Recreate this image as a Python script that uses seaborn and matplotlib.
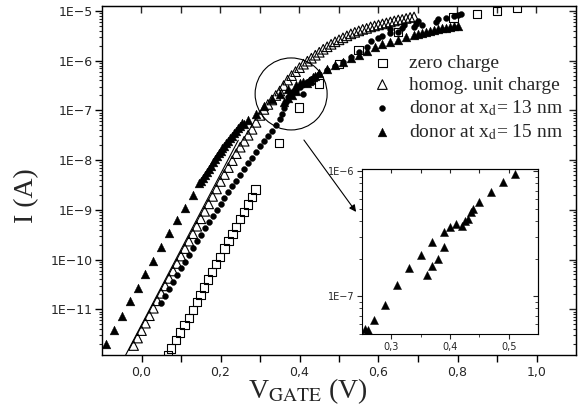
import numpy as np
import pandas as pd
import seaborn as sns
import matplotlib.pyplot as plt
from matplotlib.ticker import FuncFormatter, LogLocator, NullFormatter, FixedLocator
from matplotlib.patches import Ellipse

# ---------------- data (gate voltage in V, log10 of current in A) ----------------
zero_v = [0.067, 0.075, 0.088, 0.098, 0.109, 0.12, 0.13, 0.14, 0.149, 0.159, 0.169, 0.179,
          0.189, 0.199, 0.21, 0.22, 0.23, 0.24, 0.25, 0.26, 0.27, 0.28, 0.289,
          0.348, 0.398, 0.449, 0.50, 0.549, 0.649, 0.79, 0.85, 0.90, 0.95]
zero_logI = [-11.92, -11.79, -11.62, -11.47, -11.32, -11.17, -11.02, -10.86, -10.72, -10.56, -10.40, -10.25,
             -10.09, -9.95, -9.78, -9.63, -9.48, -9.34, -9.19, -9.04, -8.89, -8.74, -8.59,
             -7.65, -6.94, -6.46, -6.07, -5.79, -5.42, -5.13, -5.06, -5.00, -4.93]

homog_v = [-0.02, -0.01, 0.00, 0.01, 0.02, 0.03, 0.04, 0.05, 0.06, 0.07, 0.08, 0.09,
           0.10, 0.11, 0.12, 0.13, 0.14, 0.15, 0.16, 0.17, 0.18, 0.19, 0.20, 0.21,
           0.22, 0.23, 0.24, 0.25, 0.26, 0.27, 0.28, 0.29, 0.30, 0.31, 0.32, 0.33,
           0.34, 0.35, 0.36, 0.37, 0.38, 0.39, 0.40, 0.41, 0.42, 0.43, 0.44, 0.45,
           0.46, 0.47, 0.48, 0.49, 0.50, 0.51, 0.52, 0.53, 0.54, 0.55, 0.56, 0.57,
           0.58, 0.59, 0.60, 0.61, 0.62, 0.63, 0.64, 0.65, 0.66, 0.67, 0.68, 0.69]
homog_logI = [-11.73, -11.58, -11.43, -11.28, -11.13, -10.98, -10.83, -10.68, -10.53, -10.38, -10.23, -10.08,
              -9.93, -9.78, -9.63, -9.48, -9.33, -9.18, -9.03, -8.88, -8.73, -8.58, -8.43, -8.29,
              -8.15, -8.01, -7.87, -7.74, -7.62, -7.50, -7.38, -7.24, -7.10, -6.98, -6.88, -6.79,
              -6.70, -6.61, -6.50, -6.39, -6.30, -6.22, -6.14, -6.07, -6.01, -5.95, -5.89, -5.83,
              -5.77, -5.72, -5.67, -5.62, -5.58, -5.54, -5.50, -5.46, -5.43, -5.40, -5.37, -5.35,
              -5.32, -5.30, -5.28, -5.26, -5.24, -5.22, -5.20, -5.18, -5.17, -5.15, -5.13, -5.12]

d13_v = [0.05, 0.06, 0.07, 0.08, 0.09, 0.10, 0.11, 0.12, 0.13, 0.14, 0.15, 0.16,
         0.17, 0.18, 0.19, 0.20, 0.21, 0.22, 0.23, 0.24, 0.25, 0.26, 0.27, 0.28,
         0.29, 0.30, 0.31, 0.32, 0.33, 0.34, 0.35, 0.355, 0.36, 0.365, 0.37, 0.375,
         0.38, 0.39, 0.40, 0.41, 0.41, 0.42, 0.43, 0.44, 0.45, 0.47, 0.49, 0.51,
         0.53, 0.55, 0.57, 0.58, 0.60, 0.61, 0.63, 0.63, 0.65, 0.66, 0.665, 0.69,
         0.695, 0.70, 0.71, 0.745, 0.75, 0.77, 0.79, 0.80, 0.81]
d13_logI = [-10.88, -10.73, -10.59, -10.45, -10.31, -10.17, -10.04, -9.90, -9.76, -9.63, -9.50, -9.37,
            -9.25, -9.12, -9.00, -8.88, -8.76, -8.65, -8.53, -8.42, -8.30, -8.18, -8.06, -7.95,
            -7.83, -7.72, -7.62, -7.52, -7.41, -7.30, -7.18, -7.08, -6.96, -6.84, -6.74, -6.68,
            -6.63, -6.58, -6.52, -6.47, -6.68, -6.42, -6.37, -6.32, -6.27, -6.19, -6.10, -6.02,
            -5.92, -5.82, -5.72, -5.60, -5.55, -5.50, -5.45, -5.37, -5.42, -5.35, -5.28, -5.33,
            -5.27, -5.21, -5.28, -5.22, -5.17, -5.15, -5.10, -5.09, -5.07]

d15_v = [-0.09, -0.07, -0.05, -0.03, -0.01, 0.01, 0.03, 0.05, 0.07, 0.09, 0.11, 0.13,
         0.145, 0.15, 0.155, 0.16, 0.165, 0.17, 0.175, 0.18, 0.185, 0.19, 0.195, 0.20,
         0.205, 0.21, 0.215, 0.22, 0.225, 0.23, 0.235, 0.24, 0.245, 0.25, 0.255,
         0.26, 0.27, 0.29, 0.31, 0.33, 0.35, 0.36, 0.37, 0.37, 0.38, 0.39, 0.39,
         0.40, 0.41, 0.42, 0.425, 0.43, 0.435, 0.44, 0.45, 0.47, 0.49, 0.51,
         0.53, 0.55, 0.57, 0.59, 0.61, 0.63, 0.65, 0.67, 0.69, 0.70, 0.71, 0.72,
         0.73, 0.74, 0.75, 0.76, 0.77, 0.78, 0.79, 0.80]
d15_logI = [-11.70, -11.41, -11.13, -10.84, -10.57, -10.29, -10.03, -9.74, -9.47, -9.21, -8.97, -8.70,
            -8.47, -8.42, -8.36, -8.30, -8.24, -8.18, -8.11, -8.04, -7.98, -7.92, -7.86, -7.81,
            -7.76, -7.71, -7.66, -7.61, -7.56, -7.51, -7.46, -7.41, -7.36, -7.31, -7.26,
            -7.27, -7.19, -7.07, -6.91, -6.77, -6.67, -6.83, -6.57, -6.76, -6.70, -6.61, -6.49,
            -6.45, -6.42, -6.44, -6.40, -6.38, -6.33, -6.30, -6.25, -6.17, -6.09, -6.02,
            -5.95, -5.88, -5.80, -5.72, -5.66, -5.62, -5.58, -5.52, -5.48, -5.46, -5.44, -5.42,
            -5.40, -5.38, -5.37, -5.35, -5.34, -5.33, -5.31, -5.30]

fit_v = [-0.04, 0.245]
fit_logI = [-11.92, -7.60]

legend_labels = ["zero charge", "homog. unit charge",
                 r"donor at x$_{\mathrm{d}}$= 13 nm", r"donor at x$_{\mathrm{d}}$= 15 nm"]

# ---------------- figure ----------------
sns.set_style("ticks")
plt.rcParams['font.family'] = ['DejaVu Sans']
plt.rcParams['mathtext.fontset'] = 'stix'

W, H = 579, 411
fig = plt.figure(figsize=(W / 100, H / 100), dpi=100)
ax = fig.add_axes([102 / W, (H - 355) / H, 474 / W, 349 / H])

def df(v, l):
    return pd.DataFrame({"V": v, "I": 10.0 ** np.asarray(l)})

sns.lineplot(data=df(fit_v, fit_logI), x="V", y="I", ax=ax, color="black", lw=0.8, zorder=1)
sns.scatterplot(data=df(zero_v, zero_logI), x="V", y="I", ax=ax, marker="s", s=36,
                facecolor="none", edgecolor="black", linewidth=0.8, label=legend_labels[0], zorder=3)
sns.scatterplot(data=df(homog_v, homog_logI), x="V", y="I", ax=ax, marker="^", s=48,
                facecolor="none", edgecolor="black", linewidth=0.8, label=legend_labels[1], zorder=3)
sns.scatterplot(data=df(d13_v, d13_logI), x="V", y="I", ax=ax, marker="o", s=18,
                color="black", edgecolor="black", linewidth=0.3, label=legend_labels[2], zorder=3)
sns.scatterplot(data=df(d15_v, d15_logI), x="V", y="I", ax=ax, marker="^", s=40,
                color="black", edgecolor="black", linewidth=0.3, label=legend_labels[3], zorder=3)

ax.set_yscale("log")
ax.set_xlim(-0.1, 1.1)
ax.set_ylim(1.2e-12, 1.26e-5)

def xfmt(v, p):
    k = int(round(v * 10))
    if k % 2:
        return ""
    return f"{abs(v) if k == 0 else v:.1f}".replace(".", ",")

def yfmt(v, p):
    e = int(round(np.log10(v)))
    return f"1E\u2212{-e}"

ax.xaxis.set_major_locator(FixedLocator(np.round(np.arange(0.0, 1.01, 0.1), 2)))
ax.xaxis.set_major_formatter(FuncFormatter(xfmt))
ax.yaxis.set_major_locator(FixedLocator([1e-11, 1e-10, 1e-9, 1e-8, 1e-7, 1e-6, 1e-5]))
ax.yaxis.set_major_formatter(FuncFormatter(yfmt))
ax.yaxis.set_minor_locator(LogLocator(base=10, subs=np.arange(2, 10), numticks=20))
ax.yaxis.set_minor_formatter(NullFormatter())
ax.tick_params(axis="both", which="major", direction="out", length=5, width=1.0,
               labelsize=9, color="black", pad=3)
ax.tick_params(axis="y", which="minor", direction="out", length=2.5, width=0.8)
ax.tick_params(axis="y", which="major", pad=1.5)

sec_x = ax.secondary_xaxis("top")
sec_x.xaxis.set_major_locator(FixedLocator(np.round(np.arange(0.0, 1.01, 0.1), 2)))
sec_x.tick_params(direction="in", length=5, width=1.0, labeltop=False)
sec_y = ax.secondary_yaxis("right")
sec_y.yaxis.set_major_locator(FixedLocator([1e-11, 1e-10, 1e-9, 1e-8, 1e-7, 1e-6, 1e-5]))
sec_y.yaxis.set_minor_locator(LogLocator(base=10, subs=np.arange(2, 10), numticks=20))
sec_y.yaxis.set_minor_formatter(NullFormatter())
sec_y.tick_params(which="major", direction="in", length=5, width=1.0, labelright=False)
sec_y.tick_params(which="minor", direction="in", length=2.5, width=0.8)

for s in ax.spines.values():
    s.set_linewidth(1.0)
    s.set_color("black")

ax.set_xlabel(r"V$_{\mathrm{GATE}}$ (V)", fontsize=20, family="Liberation Serif")
ax.set_ylabel("I (A)", fontsize=20, family="Liberation Serif")
ax.xaxis.set_label_coords(0.435, -0.062)
ax.yaxis.set_label_coords(-0.132, 0.458)

leg = ax.legend(loc="upper left", bbox_to_anchor=(0.571, 0.862), frameon=False,
                prop={"family": "Liberation Serif", "size": 14}, handlelength=1.0,
                handletextpad=0.85, labelspacing=0.22, borderpad=0, borderaxespad=0)

ax.add_patch(Ellipse((0.399, 0.748), 72 / 474, 72 / 349, transform=ax.transAxes,
                     fill=False, edgecolor="black", lw=0.8, zorder=4))
ax.annotate("", xy=(0.536, 0.410), xytext=(0.426, 0.616), xycoords="axes fraction",
            textcoords="axes fraction",
            arrowprops=dict(arrowstyle="-|>", color="black", lw=0.8, mutation_scale=10,
                            shrinkA=0, shrinkB=0))

# ---------------- inset ----------------
ins = fig.add_axes([362 / W, (H - 334) / H, 176 / W, 165 / H])
ins.set_facecolor("white")
inset_mask = [(0.25 <= v <= 0.55) for v in d15_v]
ins_df = df([v for v, m in zip(d15_v, inset_mask) if m], [l for l, m in zip(d15_logI, inset_mask) if m])
sns.scatterplot(data=ins_df, x="V", y="I", ax=ins, marker="^", s=34, color="black",
                edgecolor="black", linewidth=0.3, legend=False)
ins.set_yscale("log")
ins.set_xlim(0.25, 0.55)
ins.set_ylim(5.0e-8, 1.04e-6)
ins.set_xlabel("")
ins.set_ylabel("")
ins.xaxis.set_major_locator(FixedLocator([0.3, 0.4, 0.5]))
ins.xaxis.set_minor_locator(FixedLocator([0.35, 0.45]))
ins.xaxis.set_major_formatter(FuncFormatter(lambda v, p: f"{v:.1f}".replace(".", ",")))
ins.yaxis.set_major_locator(FixedLocator([1e-7, 1e-6]))
ins.yaxis.set_major_formatter(FuncFormatter(yfmt))
ins.yaxis.set_minor_locator(LogLocator(base=10, subs=np.arange(2, 10), numticks=20))
ins.yaxis.set_minor_formatter(NullFormatter())
ins.tick_params(which="major", direction="out", length=3.5, width=0.8, labelsize=7, pad=2)
ins.tick_params(which="minor", direction="out", length=2, width=0.6)
ins_sx = ins.secondary_xaxis("top")
ins_sx.xaxis.set_major_locator(FixedLocator([0.3, 0.35, 0.4, 0.45, 0.5]))
ins_sx.tick_params(direction="in", length=3, width=0.8, labeltop=False)
ins_sy = ins.secondary_yaxis("right")
ins_sy.yaxis.set_major_locator(FixedLocator([1e-7, 1e-6]))
ins_sy.yaxis.set_minor_locator(LogLocator(base=10, subs=np.arange(2, 10), numticks=20))
ins_sy.yaxis.set_minor_formatter(NullFormatter())
ins_sy.tick_params(which="major", direction="in", length=3.5, width=0.8, labelright=False)
ins_sy.tick_params(which="minor", direction="in", length=2, width=0.6)
for s in ins.spines.values():
    s.set_linewidth(0.8)
    s.set_color("black")

fig.savefig("out.png", dpi=100)
